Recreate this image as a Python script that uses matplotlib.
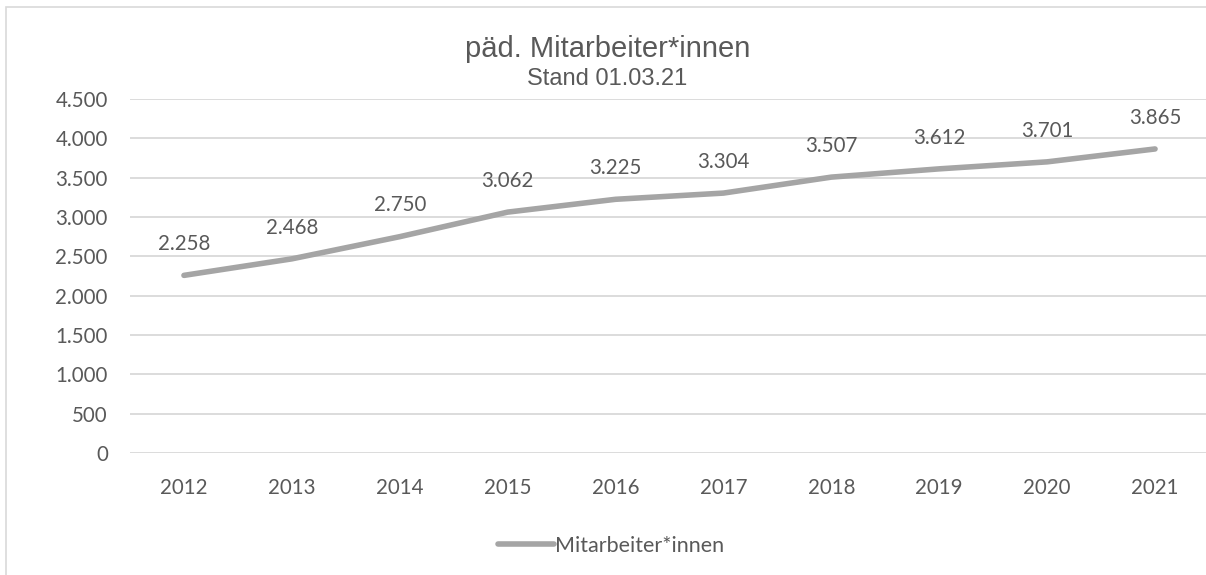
import matplotlib.pyplot as plt
from matplotlib.patches import Rectangle
from matplotlib.ticker import FuncFormatter

years = ['2012', '2013', '2014', '2015', '2016', '2017', '2018', '2019', '2020', '2021']
staff = [2258, 2468, 2750, 3062, 3225, 3304, 3507, 3612, 3701, 3865]
yticks = [0, 500, 1000, 1500, 2000, 2500, 3000, 3500, 4000, 4500]


def de_fmt(v, pos=None):
    return f'{int(v):,}'.replace(',', '.')


txt = '#595959'
grid = '#D9D9D9'
line_col = '#A5A5A5'
num_font = ['Lato', 'DejaVu Sans']
title_font = ['Liberation Sans', 'DejaVu Sans']

fig = plt.figure(figsize=(12.06, 5.75), dpi=100)
fig.patches.append(Rectangle((6 / 1206, -0.1), 1.2, (575 - 7) / 575 + 0.1,
                             transform=fig.transFigure, fill=False,
                             edgecolor=grid, linewidth=1.2))

ax = fig.add_axes([130 / 1206, 122 / 575, 1079 / 1206, 354 / 575])
x = list(range(len(years)))
ax.plot(x, staff, color=line_col, linewidth=4.0, solid_capstyle='round',
        label='Mitarbeiter*innen')
for xi, v in zip(x, staff):
    ax.annotate(de_fmt(v), (xi, v), xytext=(0, 22.5), textcoords='offset points',
                ha='center', va='center', fontsize=14.8, color=txt, family=num_font)

ax.set_xlim(-0.5, len(years) - 0.5)
ax.set_ylim(0, 4500)
ax.set_yticks(yticks)
ax.yaxis.set_major_formatter(FuncFormatter(de_fmt))
ax.set_xticks(x)
ax.set_xticklabels(years)
ax.grid(axis='y', color=grid, linewidth=1.3)
ax.set_axisbelow(True)
for s in ax.spines.values():
    s.set_visible(False)
ax.tick_params(length=0, labelsize=14.8, colors=txt)
ax.tick_params(axis='y', pad=16)
ax.tick_params(axis='x', pad=18)
for lab in ax.get_xticklabels() + ax.get_yticklabels():
    lab.set_family(num_font)

fig.text(608 / 1206, 1 - 57 / 575, 'päd. Mitarbeiter*innen', ha='center', va='baseline',
         fontsize=21, color=txt, family=title_font)
fig.text(607 / 1206, 1 - 85 / 575, 'Stand 01.03.21', ha='center', va='baseline',
         fontsize=17, color=txt, family=title_font)

leg = fig.legend(loc='center', bbox_to_anchor=(611 / 1206, 1 - 546 / 575), frameon=False,
                 handlelength=2.6, handletextpad=0.05, prop={'family': num_font, 'size': 15.5})
for t in leg.get_texts():
    t.set_color(txt)

fig.savefig('out.png', dpi=100)
